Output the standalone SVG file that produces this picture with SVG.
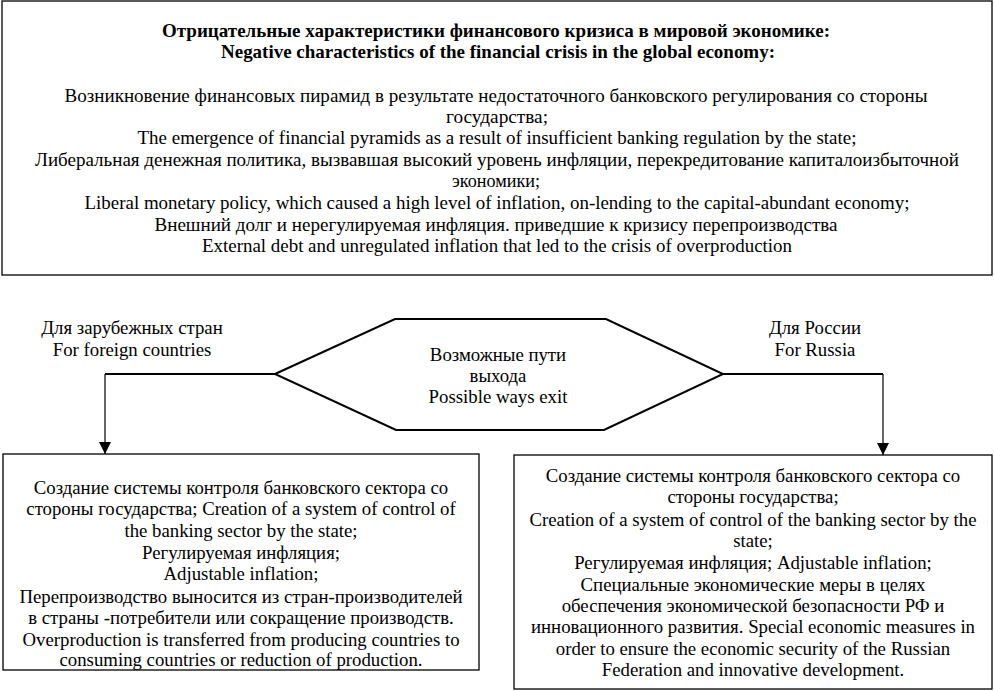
<svg xmlns="http://www.w3.org/2000/svg" width="994" height="691" viewBox="0 0 994 691">
<style>
  .box { fill: #ffffff; stroke: #000000; stroke-width: 1.3; }
  .hex { fill: #ffffff; stroke: #000000; stroke-width: 2; }
  .t { font-family: "Liberation Serif", "DejaVu Serif", "Times New Roman", serif; font-size: 18.8px; fill: #000000; text-anchor: middle; }
  .b { font-weight: bold; }
  .thick { stroke: #000000; stroke-width: 2; fill: none; }
  .thin { stroke: #000000; stroke-width: 1.2; fill: none; }
</style>
<defs>
  <marker id="arr" viewBox="0 0 12 12" refX="12" refY="6" markerWidth="12" markerHeight="12" markerUnits="userSpaceOnUse" orient="auto">
    <path d="M0,0 L12,6 L0,12 Z" fill="#000000"/>
  </marker>
</defs>
<rect width="994" height="691" fill="#ffffff"/>

<g id="top-box">
  <rect class="box" x="2" y="1" width="990" height="274"/>
  <text class="t b" x="496" y="37" textLength="668" lengthAdjust="spacingAndGlyphs">Отрицательные характеристики финансового кризиса в мировой экономике:</text>
  <text class="t b" x="498" y="58" textLength="554" lengthAdjust="spacingAndGlyphs">Negative characteristics of the financial crisis in the global economy:</text>
  <text class="t" x="496" y="102" textLength="863" lengthAdjust="spacingAndGlyphs">Возникновение финансовых пирамид в результате недостаточного банковского регулирования со стороны</text>
  <text class="t" x="497" y="123" textLength="102" lengthAdjust="spacingAndGlyphs">государства;</text>
  <text class="t" x="497" y="144" textLength="719" lengthAdjust="spacingAndGlyphs">The emergence of financial pyramids as a result of insufficient banking regulation by the state;</text>
  <text class="t" x="497" y="166" textLength="924" lengthAdjust="spacingAndGlyphs">Либеральная денежная политика, вызвавшая высокий уровень инфляции, перекредитование капиталоизбыточной</text>
  <text class="t" x="496" y="187" textLength="88" lengthAdjust="spacingAndGlyphs">экономики;</text>
  <text class="t" x="497" y="209" textLength="825" lengthAdjust="spacingAndGlyphs">Liberal monetary policy, which caused a high level of inflation, on-lending to the capital-abundant economy;</text>
  <text class="t" x="496" y="231" textLength="683" lengthAdjust="spacingAndGlyphs">Внешний долг и нерегулируемая инфляция. приведшие к кризису перепроизводства</text>
  <text class="t" x="497" y="252" textLength="590" lengthAdjust="spacingAndGlyphs">External debt and unregulated inflation that led to the crisis of overproduction</text>
</g>

<g id="label-foreign">
  <text class="t" x="132" y="334">Для зарубежных стран</text>
  <text class="t" x="132" y="356">For foreign countries</text>
</g>

<g id="label-russia">
  <text class="t" x="815" y="334">Для России</text>
  <text class="t" x="815" y="356">For Russia</text>
</g>

<g id="hexagon">
  <polygon class="hex" points="275,374 395,319 606,319 723,374 604,430 396,430"/>
  <text class="t" x="498" y="361">Возможные пути</text>
  <text class="t" x="498" y="382">выхода</text>
  <text class="t" x="498" y="403">Possible ways exit</text>
</g>

<g id="connectors">
  <polyline class="thick" points="275,374 105,374"/>
  <polyline class="thin" points="105,374 105,454" marker-end="url(#arr)"/>
  <polyline class="thick" points="723,374 883,374"/>
  <polyline class="thin" points="883,374 883,455" marker-end="url(#arr)"/>
</g>

<g id="box-foreign">
  <rect class="box" x="3" y="454" width="476" height="216"/>
  <text class="t" x="241" y="494">Создание системы контроля банковского сектора со</text>
  <text class="t" x="241" y="515">стороны государства; Creation of a system of control of</text>
  <text class="t" x="241" y="537">the banking sector by the state;</text>
  <text class="t" x="241" y="559">Регулируемая инфляция;</text>
  <text class="t" x="241" y="580">Adjustable inflation;</text>
  <text class="t" x="241" y="603">Перепроизводство выносится из стран-производителей</text>
  <text class="t" x="241" y="624">в страны -потребители или сокращение производств.</text>
  <text class="t" x="241" y="646">Overproduction is transferred from producing countries to</text>
  <text class="t" x="241" y="666">consuming countries or reduction of production.</text>
</g>

<g id="box-russia">
  <rect class="box" x="514" y="455" width="478" height="234"/>
  <text class="t" x="753" y="482">Создание системы контроля банковского сектора со</text>
  <text class="t" x="753" y="503">стороны государства;</text>
  <text class="t" x="753" y="526">Creation of a system of control of the banking sector by the</text>
  <text class="t" x="753" y="547">state;</text>
  <text class="t" x="753" y="569">Регулируемая инфляция; Adjustable inflation;</text>
  <text class="t" x="753" y="591">Специальные экономические меры в целях</text>
  <text class="t" x="753" y="612">обеспечения экономической безопасности РФ и</text>
  <text class="t" x="753" y="633">инновационного развития. Special economic measures in</text>
  <text class="t" x="753" y="655">order to ensure the economic security of the Russian</text>
  <text class="t" x="753" y="676">Federation and innovative development.</text>
</g>
</svg>
